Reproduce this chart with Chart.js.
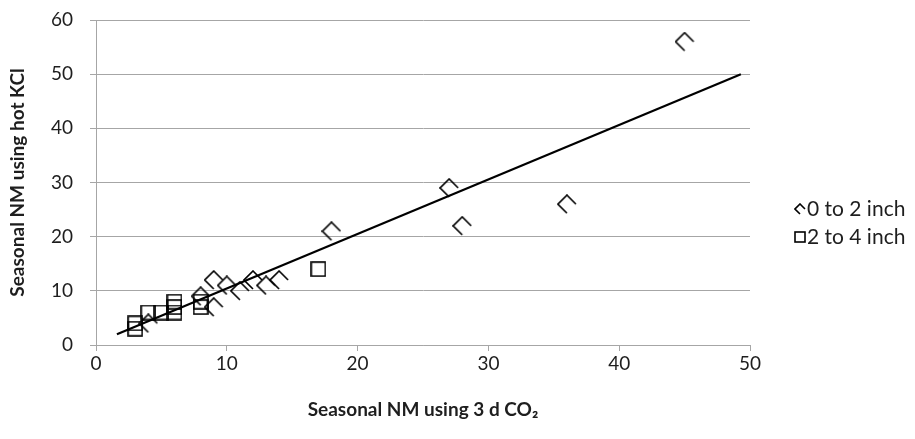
<!DOCTYPE html>
<html lang="en">
<head>
  <meta charset="UTF-8" />
  <title>Seasonal NM</title>
  <script src="https://cdn.jsdelivr.net/npm/chart.js"></script>
  <style>
    body { margin: 0; background: #fff; }
    #wrap { width: 915px; height: 439px; }
  </style>
</head>
<body>
  <div id="wrap"><canvas id="nmChart" width="915" height="439"></canvas></div>
  <script>
    // 0 to 2 inch depth
    const shallowX = [4, 8, 9, 9, 10, 11, 12, 13, 14, 18, 27, 28, 36, 45];
    const shallowY = [4, 9, 7, 12, 11, 10, 12, 11, 12, 21, 29, 22, 26, 56];
    // 2 to 4 inch depth
    const deepX = [3, 3, 4, 5, 6, 6, 6, 8, 8, 17];
    const deepY = [3, 4, 6, 6, 6, 7, 8, 7, 8, 14];
    // linear trendline end points
    const trendX = [1.6, 49.3];
    const trendY = [2.0, 50.0];

    const seriesNames = ["0 to 2 inch", "2 to 4 inch"];
    const xTicks = [0, 10, 20, 30, 40, 50];
    const yTicks = [0, 10, 20, 30, 40, 50, 60];

    const FONT = "Lato, 'Open Sans', sans-serif";
    const GRID = "#a6a6a6";
    const TEXT = "#1e1e1e";

    // Excel-like markers: open diamond missing its lower right edge, open square
    function diamondMark(size) {
      const c = document.createElement("canvas");
      c.width = size; c.height = size;
      const g = c.getContext("2d");
      const h = size / 2, e = 1;
      g.strokeStyle = "#000"; g.lineWidth = 1.6;
      g.beginPath();
      g.moveTo(h, size - e);
      g.lineTo(e, h);
      g.lineTo(h, e);
      g.lineTo(size - e, h);
      g.stroke();
      return c;
    }
    function squareMark(size) {
      const c = document.createElement("canvas");
      c.width = size; c.height = size;
      const g = c.getContext("2d");
      g.strokeStyle = "#000"; g.lineWidth = 1.6;
      g.strokeRect(1, 1, size - 2, size - 2);
      return c;
    }
    const diamondBig = diamondMark(20), squareBig = squareMark(16);
    const diamondSmall = diamondMark(12), squareSmall = squareMark(12);

    const toPoints = (xs, ys) => xs.map((x, i) => ({ x: x, y: ys[i] }));

    // legend drawn to the right of the plot
    const sideLegend = {
      id: "sideLegend",
      afterDraw(chart) {
        const ctx = chart.ctx;
        const marks = [diamondSmall, squareSmall];
        const rows = [209, 237];
        ctx.save();
        ctx.font = "21px " + FONT;
        ctx.fillStyle = TEXT;
        ctx.textBaseline = "middle";
        seriesNames.forEach((name, i) => {
          const m = marks[i];
          ctx.drawImage(m, 800 - m.width / 2, rows[i] - m.height / 2);
          ctx.fillText(name, 807, rows[i]);
        });
        ctx.restore();
      }
    };

    new Chart(document.getElementById("nmChart"), {
      type: "scatter",
      data: {
        datasets: [
          {
            type: "line",
            label: "Trend",
            data: toPoints(trendX, trendY),
            borderColor: "#000",
            borderWidth: 2.2,
            pointRadius: 0,
            fill: false,
            order: 0
          },
          {
            label: seriesNames[0],
            data: toPoints(shallowX, shallowY),
            pointStyle: diamondBig,
            order: 1
          },
          {
            label: seriesNames[1],
            data: toPoints(deepX, deepY),
            pointStyle: squareBig,
            order: 2
          }
        ]
      },
      options: {
        responsive: false,
        animation: false,
        layout: { padding: { left: 0, right: 165, top: 20, bottom: 0 } },
        plugins: { legend: { display: false }, tooltip: { enabled: false } },
        scales: {
          x: {
            type: "linear",
            min: 0, max: 50,
            afterBuildTicks: s => { s.ticks = xTicks.map(v => ({ value: v })); },
            afterFit: s => { s.height = 94; s.paddingLeft = 0; s.paddingRight = 0; },
            border: { color: GRID, width: 1 },
            grid: { drawOnChartArea: false, color: GRID, tickLength: 6 },
            ticks: { color: TEXT, font: { family: FONT, size: 19 }, padding: 1 },
            title: {
              display: true,
              text: "Seasonal NM using 3 d CO₂",
              color: TEXT,
              font: { family: FONT, size: 19, weight: "bold" },
              padding: { top: 0, bottom: 18 }
            }
          },
          y: {
            type: "linear",
            min: 0, max: 60,
            afterBuildTicks: s => { s.ticks = yTicks.map(v => ({ value: v })); },
            afterFit: s => { s.width = 96; s.paddingTop = 0; s.paddingBottom = 0; },
            border: { color: GRID, width: 1 },
            grid: { color: GRID, tickLength: 6, lineWidth: 1 },
            ticks: { color: TEXT, font: { family: FONT, size: 19 }, padding: 17 },
            title: {
              display: true,
              text: "Seasonal NM using hot KCl",
              color: TEXT,
              font: { family: FONT, size: 19, weight: "bold" },
              padding: { top: 6, bottom: 0 }
            }
          }
        }
      },
      plugins: [sideLegend]
    });
  </script>
</body>
</html>
